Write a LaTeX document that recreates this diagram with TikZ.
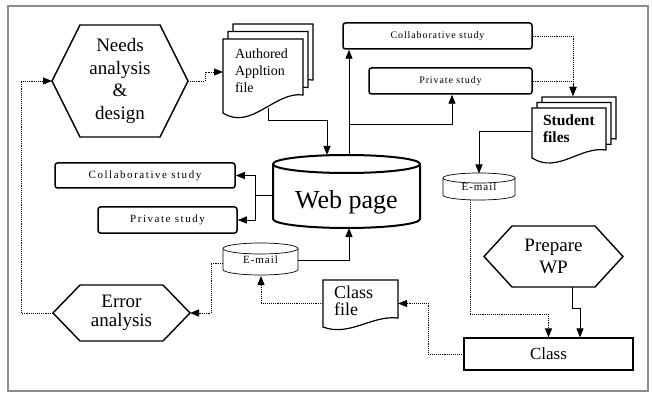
\documentclass[tikz,border=0pt]{standalone}
\usepackage{fontspec}
\setmainfont{Liberation Serif}
\newfontfamily\topboxfont[LetterSpace=9]{Liberation Serif}
\newfontfamily\leftboxfont[LetterSpace=14]{Liberation Serif}
\usetikzlibrary{arrows.meta,calc}
\tikzset{
 frame/.style={draw=black!45, line width=2.5pt},
 sbox/.style={draw, line width=1.5pt, rounded corners=2.5pt, fill=white, inner sep=0pt},
 hexline/.style={draw, line width=1.4pt, line join=miter},
 docline/.style={draw, line width=1.2pt, fill=white},
 cylthick/.style={draw, line width=2pt, fill=white},
 cylthin/.style={draw, line width=0.7pt, fill=white},
 conn/.style={draw, line width=0.9pt, -{Triangle[length=9pt,width=7pt]}},
 dconn/.style={conn, densely dotted},
 area/.style={inner sep=0pt, outer sep=0pt},
 mailfont/.style={font=\topboxfont\fontsize{11}{13}\selectfont},
}
% document shape: x0 y0 w h rise c1 c2
\newcommand{\docat}[7]{%
 \filldraw[docline] (#1,#2) -- ++(#3,0) -- ++(0,#4-#5)
   .. controls +(-0.35*#3,-#7) and +(0.35*#3,#6) .. ++(-#3,#5) -- cycle;}
% cylinder: x0 y0 w h ry style
\newcommand{\cylat}[6]{%
 \filldraw[#6] (#1,#2+#5) -- (#1,#2+#4-#5)
   arc[start angle=180,end angle=360,x radius={(#3)*0.5pt},y radius={(#5)*1pt}]
   -- (#1+#3,#2+#5)
   arc[start angle=0,end angle=180,x radius={(#3)*0.5pt},y radius={(#5)*1pt}] -- cycle;
 \draw[#6] (#1,#2+#5)
   arc[start angle=180,end angle=360,x radius={(#3)*0.5pt},y radius={(#5)*1pt}];}
% hexagon around a node
\newcommand{\hexdraw}[2]{%
 \draw[hexline] (#1.west) -- ($(#1.north west)+(#2,0)$) -- ($(#1.north east)+(-#2,0)$)
   -- (#1.east) -- ($(#1.south east)+(-#2,0)$) -- ($(#1.south west)+(#2,0)$) -- cycle;}
\begin{document}
\begin{tikzpicture}[x=1pt,y=-1pt]
\useasboundingbox (0,0) rectangle (652,395);
\draw[frame] (8,6) rectangle (648,391);

% shapes drawn directly
\docat{233}{24}{80}{74}{18}{18}{4}
\docat{228}{31.5}{80}{74}{18}{18}{4}
\docat{223}{39}{80}{74}{18}{18}{4}
\docat{542}{97}{74}{50}{8}{16}{4}
\docat{537}{102.5}{74}{50}{8}{16}{4}
\docat{532}{108}{74}{50}{8}{16}{4}
\docat{323}{280}{75}{47}{9}{10}{3}
\cylat{273}{155}{147}{73}{9}{cylthick}
\cylat{443}{173}{72}{27}{5}{cylthin}
\cylat{223}{243}{75}{32}{5.5}{cylthin}

% nodes
\node[area, minimum width=136pt, minimum height=112pt, align=center,
      font=\fontsize{19}{22.5}\selectfont] (needs) at (120,81) {Needs\\analysis\\\&\\design};
\node[area, minimum width=80pt, minimum height=74pt] (auth) at (263,76) {};
\node[area, anchor=north west, align=left, font=\fontsize{14}{17}\selectfont]
      (authtxt) at (235,49) {Authored\\Appltion\\file};
\node[sbox, minimum width=189pt, minimum height=26pt, font=\topboxfont\fontsize{10}{12}\selectfont]
      (collabT) at (437.5,36) {Collaborative study};
\node[sbox, minimum width=163pt, minimum height=26pt, font=\topboxfont\fontsize{10}{12}\selectfont]
      (privT) at (450.5,81) {Private study};
\node[area, minimum width=74pt, minimum height=50pt] (student) at (569,133) {};
\node[area, anchor=north west, align=left, font=\bfseries\fontsize{15.5}{17}\selectfont]
      (studtxt) at (543,115) {Student\\files};
\node[area, minimum width=72pt, minimum height=27pt, mailfont] (mailR) at (479,187) {E-mail};
\node[area, minimum width=147pt, minimum height=73pt] (web) at (346.5,191.5) {};
\node[area, font=\fontsize{26}{30}\selectfont] (webtxt) at (346.5,202) {Web page};
\node[sbox, minimum width=180pt, minimum height=25pt, font=\leftboxfont\fontsize{11}{13}\selectfont]
      (collabL) at (145,175.5) {Collaborative study};
\node[sbox, minimum width=139pt, minimum height=26pt, font=\leftboxfont\fontsize{11}{13}\selectfont]
      (privL) at (167.5,220) {Private study};
\node[area, minimum width=75pt, minimum height=32pt, mailfont] (mailL) at (260.5,260) {E-mail};
\node[area, minimum width=137pt, minimum height=56pt, align=center,
      font=\fontsize{19}{19}\selectfont] (error) at (121.5,313) {Error\\analysis};
\node[area, minimum width=139pt, minimum height=61pt, align=center,
      font=\fontsize{19}{22}\selectfont] (prep) at (553.5,256.5) {Prepare\\WP};
\node[draw, line width=1.2pt, inner sep=0pt, minimum width=169pt, minimum height=32pt,
      font=\fontsize{17}{20}\selectfont] (classb) at (548.5,354) {Class};
\node[area, minimum width=75pt, minimum height=47pt] (classf) at (360.5,303.5) {};
\node[area, anchor=north west, align=left, font=\fontsize{18}{17}\selectfont]
      (classftxt) at (334,286.5) {Class\\file};

\hexdraw{needs}{28}
\hexdraw{error}{27}
\hexdraw{prep}{28}

% connectors
\coordinate (wtop) at ([xshift=2.5pt]web.north);
\coordinate (wleft) at ([yshift=-3.5pt]web.west);
\draw[dconn] (needs.east) -- ++(17,0) |- ([yshift=4pt]auth.west);
\draw[conn] ([xshift=5pt,yshift=5pt]auth.south) -- ++(0,12) -| ([xshift=-19.5pt]web.north);
\draw[conn] (wtop) -- (wtop |- collabT.south);
\draw[conn] ([yshift=31pt]wtop) -| ([xshift=1.5pt]privT.south);
\draw[dconn] (collabT.east) -| ([xshift=4pt,yshift=12pt]student.north);
\draw[dconn] (privT.east) -| ([xshift=4pt,yshift=12pt]student.north);
\draw[conn] ([yshift=2pt]student.west) -| (mailR.north);
\draw[dconn] ([xshift=-9pt]mailR.south) |- ($(classb.north)+(0,-23)$) -- (classb.north);
\draw[conn] ([xshift=18.5pt]prep.south) -- ++(0,21) -| ([xshift=31.5pt]classb.north);
\draw[dconn] (classb.west) -- ++(-35,0) |- (classf.east);
\draw[dconn] (classf.west) -| ([xshift=0.5pt]mailL.south);
\draw[conn] (mailL.east) -| ([xshift=2.5pt]web.south);
\draw[dconn] ([yshift=-3pt]mailL.west) -- ++(-12,0) |- (error.east);
\draw[dconn] (error.west) -- ++(-32,0) |- (needs.west);
\draw[conn] (wleft) -- ++(-18,0) |- (collabL.east);
\draw[conn] (wleft) -- ++(-18,0) |- (privL.east);
\end{tikzpicture}
\end{document}
